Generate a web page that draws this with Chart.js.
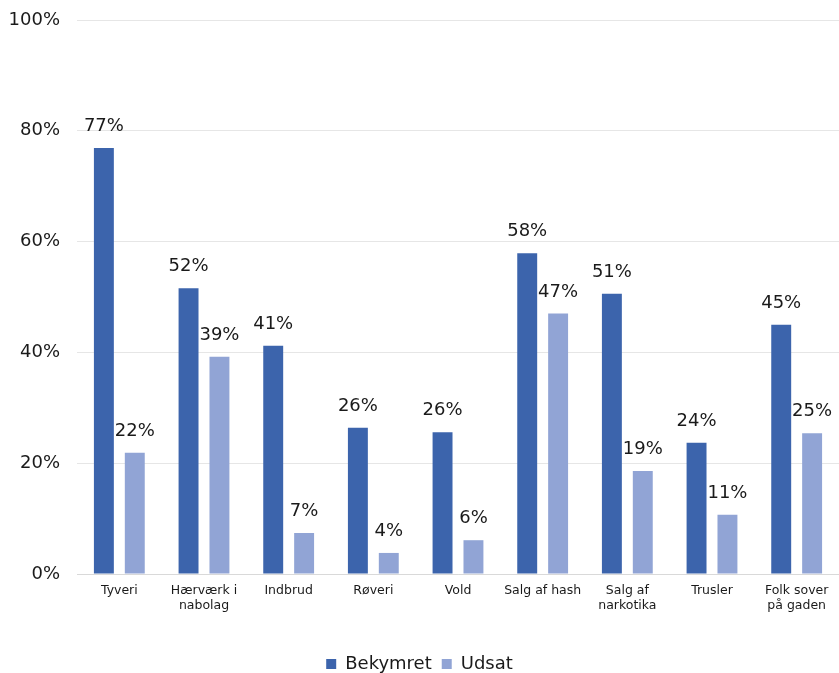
<!DOCTYPE html>
<html lang="da">
<head>
    <meta charset="UTF-8">
    <title>Bekymret og udsat</title>
    <script src="https://cdn.jsdelivr.net/npm/chart.js"></script>
    <style>
        body {
            margin: 0;
            padding: 0;
            background-color: #ffffff;
        }

        .wrap {
            width: 839px;
            height: 673px;
            position: relative;
        }
    </style>
</head>
<body>
    <div class="wrap">
        <canvas id="barChart"></canvas>
    </div>

    <script>
        const categories = [
            'Tyveri', ['Hærværk i', 'nabolag'], 'Indbrud', 'Røveri', 'Vold',
            'Salg af hash', ['Salg af', 'narkotika'], 'Trusler', ['Folk sover', 'på gaden']
        ];
        const bekymret = [76.9, 51.6, 41.2, 26.4, 25.6, 57.9, 50.6, 23.7, 45.0];
        const udsat = [21.9, 39.2, 7.4, 3.8, 6.1, 47.0, 18.6, 10.7, 25.4];
        const yTicks = [0, 20, 40, 60, 80, 100];

        const fontName = '"DejaVu Sans", sans-serif';

        // tal over søjlerne
        const valueLabels = {
            id: 'valueLabels',
            afterDatasetsDraw(chart) {
                const ctx = chart.ctx;
                ctx.save();
                ctx.font = '18px ' + fontName;
                ctx.fillStyle = '#1a1a1a';
                ctx.textAlign = 'center';
                ctx.textBaseline = 'alphabetic';
                chart.data.datasets.forEach((ds, i) => {
                    chart.getDatasetMeta(i).data.forEach((bar, j) => {
                        ctx.fillText(Math.round(ds.data[j]) + '%', bar.x, bar.y - 17);
                    });
                });
                ctx.restore();
            }
        };

        new Chart(document.getElementById('barChart'), {
            type: 'bar',
            data: {
                labels: categories,
                datasets: [
                    { label: 'Bekymret', data: bekymret, backgroundColor: '#3C64AC' },
                    { label: 'Udsat', data: udsat, backgroundColor: '#91A4D5' }
                ]
            },
            options: {
                responsive: true,
                maintainAspectRatio: false,
                animation: false,
                categoryPercentage: 0.73,
                barPercentage: 0.645,
                layout: {
                    padding: { top: 0, right: 0, bottom: -10, left: 0 }
                },
                plugins: {
                    tooltip: { enabled: false },
                    legend: {
                        position: 'bottom',
                        labels: {
                            boxWidth: 10,
                            boxHeight: 10,
                            padding: 10,
                            color: '#1a1a1a',
                            font: { family: fontName, size: 18 }
                        }
                    }
                },
                scales: {
                    x: {
                        grid: { display: false, drawTicks: false },
                        border: { display: true, color: '#d9d9d9' },
                        ticks: {
                            color: '#1a1a1a',
                            padding: 9,
                            maxRotation: 0,
                            autoSkip: false,
                            font: { family: fontName, size: 12.5 }
                        },
                        afterFit(scale) { scale.height = 71; }
                    },
                    y: {
                        min: 0,
                        max: 100,
                        afterBuildTicks(scale) {
                            scale.ticks = yTicks.map(v => ({ value: v }));
                        },
                        grid: { color: '#e6e6e6', drawTicks: false },
                        border: { display: false },
                        ticks: {
                            color: '#1a1a1a',
                            padding: 17,
                            font: { family: fontName, size: 18, lineHeight: '6px' },
                            callback: v => v + '%'
                        },
                        afterFit(scale) { scale.width = 77; }
                    }
                }
            },
            plugins: [valueLabels]
        });
    </script>
</body>
</html>
